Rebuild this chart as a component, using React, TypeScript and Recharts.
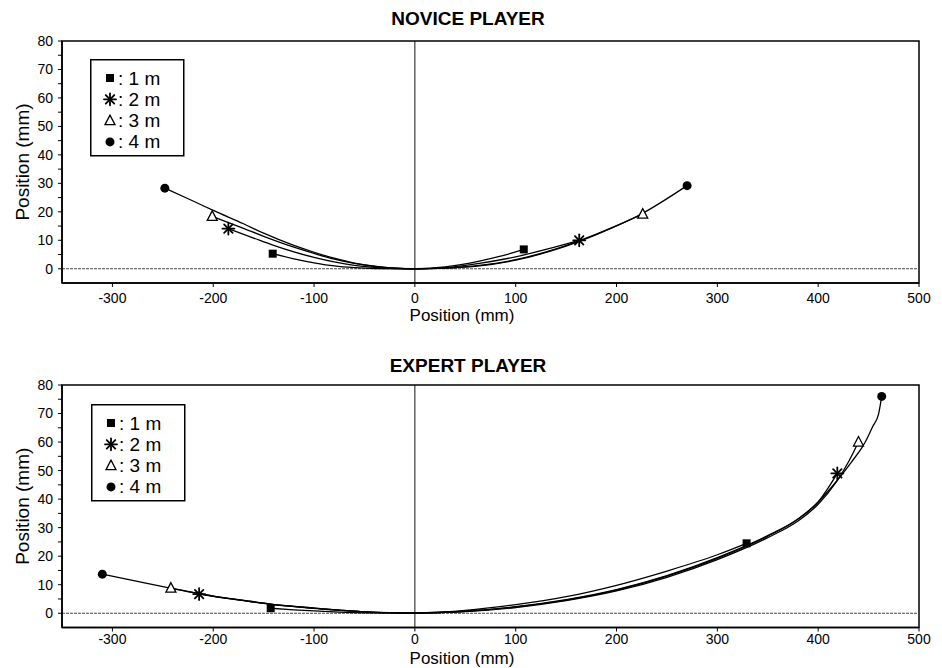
import React from 'react';
import { LineChart, Line, XAxis, YAxis, ReferenceLine, ReferenceArea } from 'recharts';

const FONT = '"Liberation Sans", Arial, Helvetica, sans-serif';

// x (mm), y (mm) pairs
const novice1m: [number, number][] = [[-141, 5.3], [-120, 3.5], [-100, 2.1], [-80, 1.0], [-60, 0.4], [-40, 0.1], [0, 0], [30, 0.7], [64, 2.7], [85, 4.4], [108, 6.8]];
const novice2m: [number, number][] = [[-185, 14.1], [-160, 10.8], [-140, 8.2], [-120, 5.9], [-100, 4.0], [-80, 2.4], [-60, 1.2], [-40, 0.5], [-20, 0.1], [0, 0], [30, 0.4], [64, 1.9], [100, 4.2], [130, 6.8], [163, 10]];
const novice3m: [number, number][] = [[-201, 18.4], [-170, 14.2], [-150, 11.4], [-120, 7.6], [-100, 5.4], [-80, 3.4], [-60, 1.9], [-40, 0.8], [-20, 0.2], [0, 0], [30, 0.2], [64, 1.2], [100, 3.2], [140, 7.0], [180, 12.2], [226, 19.2]];
const novice4m: [number, number][] = [[-248, 28.3], [-220, 23.8], [-200, 20.5], [-170, 15.8], [-150, 12.5], [-120, 8.2], [-100, 5.8], [-80, 3.7], [-60, 2.0], [-40, 0.9], [-20, 0.2], [0, 0], [30, 0.2], [64, 1.0], [100, 3.0], [140, 6.8], [180, 12.0], [226, 19.5], [270, 29.2]];

const expert1m: [number, number][] = [[-143, 1.75], [-120, 1.2], [-100, 0.8], [-75, 0.4], [-50, 0.15], [0, 0], [50, 1.0], [100, 3.0], [150, 5.8], [200, 9.8], [250, 14.8], [300, 20.5], [329, 24.5]];
const expert2m: [number, number][] = [[-214, 6.7], [-200, 5.9], [-170, 4.4], [-143, 3.1], [-120, 2.3], [-100, 1.7], [-75, 1.0], [-50, 0.5], [-25, 0.2], [0, 0.1], [50, 0.7], [100, 2.3], [150, 4.8], [200, 8.3], [250, 13.2], [300, 19.5], [350, 27.2], [380, 33], [400, 39], [419, 49]];
const expert3m: [number, number][] = [[-242, 8.8], [-220, 7.3], [-200, 6.0], [-170, 4.5], [-143, 3.2], [-120, 2.4], [-100, 1.8], [-75, 1.1], [-50, 0.5], [-25, 0.2], [0, 0.1], [50, 0.6], [100, 2.0], [150, 4.4], [200, 7.8], [250, 12.6], [300, 18.8], [350, 26.5], [380, 32.3], [400, 38.2], [418, 46], [430, 53], [440, 60]];
const expert4m: [number, number][] = [[-310, 13.7], [-280, 11.5], [-250, 9.3], [-220, 7.2], [-200, 6.0], [-170, 4.5], [-143, 3.2], [-120, 2.4], [-100, 1.8], [-75, 1.1], [-50, 0.5], [-25, 0.2], [0, 0.1], [50, 0.7], [100, 2.2], [150, 4.6], [200, 8.1], [250, 13], [300, 19.2], [350, 27], [380, 33], [400, 39], [421, 47.5], [433, 53], [444, 58.4], [447, 60.2], [454, 65.4], [460, 70], [463, 76]];

const xTicks = [-300, -200, -100, 0, 100, 200, 300, 400, 500];
const yTicks = [0, 5, 10, 15, 20, 25, 30, 35, 40, 45, 50, 55, 60, 65, 70, 75, 80];
const legendLabels = ['1 m', '2 m', '3 m', '4 m'];
const markerKinds = ['square', 'star', 'triangle', 'circle'];

const toPts = (arr: [number, number][]) => arr.map(([x, y]) => ({ x, y }));

function Marker({ kind, cx, cy }: { kind: string; cx: number; cy: number }) {
  if (kind === 'square') return <rect x={cx - 4} y={cy - 4} width={8} height={8} fill="#000" />;
  if (kind === 'circle') return <circle cx={cx} cy={cy} r={4.5} fill="#000" />;
  if (kind === 'triangle')
    return <polygon points={`${cx},${cy - 5.5} ${cx - 5},${cy + 4} ${cx + 5},${cy + 4}`} fill="#fff" stroke="#000" strokeWidth={1.3} />;
  const r = 6;
  const a = r * 0.707;
  return (
    <g stroke="#000" strokeWidth={1.8} strokeLinecap="round">
      <line x1={cx} y1={cy - r} x2={cx} y2={cy + r} />
      <line x1={cx - r} y1={cy} x2={cx + r} y2={cy} />
      <line x1={cx - a} y1={cy - a} x2={cx + a} y2={cy + a} />
      <line x1={cx - a} y1={cy + a} x2={cx + a} y2={cy - a} />
    </g>
  );
}

const makeDot = (kind: string, n: number) => (props: any) => {
  const { cx, cy, index } = props;
  if (index !== 0 && index !== n - 1) return <g key={`e-${index}`} />;
  return (
    <g key={`m-${index}`}>
      <Marker kind={kind} cx={cx} cy={cy} />
    </g>
  );
};

function LegendBox({ left, top }: { left: number; top: number }) {
  return (
    <svg style={{ position: 'absolute', left, top }} width={96} height={99}>
      <rect x={0.75} y={0.75} width={93} height={96} fill="#fff" stroke="#000" strokeWidth={1.5} />
      {legendLabels.map((lab, i) => (
        <g key={lab}>
          <Marker kind={markerKinds[i]} cx={20} cy={19 + i * 21.3} />
          <text x={28} y={19 + i * 21.3 + 6.5} fontFamily={FONT} fontSize={19} fill="#000">
            {`: ${lab}`}
          </text>
        </g>
      ))}
    </svg>
  );
}

function Panel({ series, bottomMargin, topMargin, tickGap, labelDy }: { series: [number, number][][]; bottomMargin: number; topMargin: number; tickGap: number; labelDy: number }) {
  return (
    <LineChart width={942} height={334} margin={{ top: topMargin, right: 23, left: 0, bottom: bottomMargin }}>
      <XAxis
        type="number"
        dataKey="x"
        domain={[-350, 500]}
        ticks={xTicks}
        interval={0}
        allowDataOverflow
        height={30}
        tickSize={4}
        tickMargin={tickGap}
        axisLine={{ stroke: '#000', strokeWidth: 1.5 }}
        tickLine={{ stroke: '#000' }}
        tick={{ fill: '#000', fontSize: 14, fontFamily: FONT }}
        label={{
          content: (p: any) => (
            <text x={462} y={p.viewBox.y + labelDy} textAnchor="middle" fontFamily={FONT} fontSize={17} fill="#000">
              Position (mm)
            </text>
          ),
        }}
      />
      <YAxis
        type="number"
        domain={[-5, 80]}
        ticks={yTicks}
        interval={0}
        allowDataOverflow
        width={62}
        tickSize={4}
        tickMargin={5}
        tickFormatter={(v: number) => (v % 10 === 0 ? String(v) : '')}
        axisLine={{ stroke: '#000', strokeWidth: 1.5 }}
        tickLine={{ stroke: '#000' }}
        tick={{ fill: '#000', fontSize: 14, fontFamily: FONT }}
        label={{
          content: (p: any) => {
            const cy = p.viewBox.y + p.viewBox.height / 2;
            return (
              <text x={22} y={cy} transform={`rotate(-90, 22, ${cy})`} textAnchor="middle" dominantBaseline="central" fontFamily={FONT} fontSize={19} fill="#000">
                Position (mm)
              </text>
            );
          },
        }}
      />
      <ReferenceArea x1={-350} x2={500} y1={-5} y2={80} fill="none" stroke="#000" strokeWidth={1.5} />
      <ReferenceLine y={0} stroke="#444" strokeWidth={1} strokeDasharray="3 1" />
      <ReferenceLine x={0} stroke="#111" strokeWidth={1} />
      {series.map((s, i) => (
        <Line
          key={i}
          data={toPts(s)}
          dataKey="y"
          type="monotone"
          stroke="#000"
          strokeWidth={1.3}
          dot={makeDot(markerKinds[i], s.length)}
          activeDot={false}
          isAnimationActive={false}
        />
      ))}
    </LineChart>
  );
}

export default function App() {
  return (
    <div style={{ position: 'absolute', left: 0, top: 0, width: 942, height: 668, background: '#fff', fontFamily: FONT }}>
      <div style={{ position: 'absolute', left: 0, top: 0 }}>
        <Panel series={[novice1m, novice2m, novice3m, novice4m]} topMargin={41} bottomMargin={21} tickGap={6} labelDy={38} />
      </div>
      <div style={{ position: 'absolute', left: 0, top: 334 }}>
        <Panel series={[expert1m, expert2m, expert3m, expert4m]} topMargin={51} bottomMargin={10.5} tickGap={3} labelDy={36} />
      </div>
      <LegendBox left={90} top={59} />
      <LegendBox left={91} top={404} />
      <svg style={{ position: 'absolute', left: 0, top: 0, pointerEvents: 'none' }} width={942} height={668}>
        <text x={468} y={25} textAnchor="middle" fontFamily={FONT} fontSize={19} fontWeight="bold" fill="#000">
          NOVICE PLAYER
        </text>
        <text x={468} y={372} textAnchor="middle" fontFamily={FONT} fontSize={19} fontWeight="bold" fill="#000">
          EXPERT PLAYER
        </text>
      </svg>
    </div>
  );
}
